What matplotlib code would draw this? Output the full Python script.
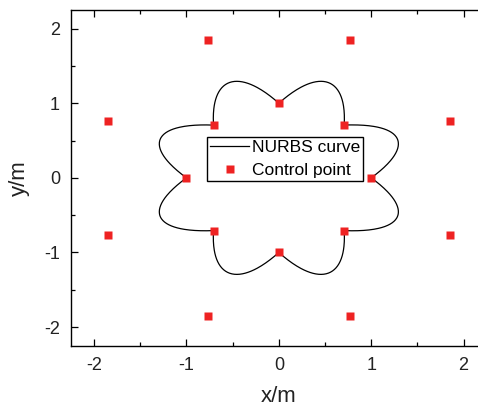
import numpy as np
import matplotlib
matplotlib.use('Agg')
import matplotlib.pyplot as plt

plt.rcParams['font.family'] = ['Liberation Sans', 'DejaVu Sans']
plt.rcParams['axes.unicode_minus'] = False

# 控制点 (外圈半径2, 内圈半径1), 首尾重合
cx = [1.0, 1.848, 0.707, 0.765, 0.0, -0.765, -0.707, -1.848, -1.0,
      -1.848, -0.707, -0.765, 0.0, 0.765, 0.707, 1.848, 1.0]
cy = [0.0, 0.765, 0.707, 1.848, 1.0, 1.848, 0.707, 0.765, 0.0,
      -0.765, -0.707, -1.848, -1.0, -1.848, -0.707, -0.765, 0.0]
weights = [1, 0.75, 1, 0.75, 1, 0.75, 1, 0.75, 1,
           0.75, 1, 0.75, 1, 0.75, 1, 0.75, 1]
degree = 2
knots = [0, 0, 0, 1, 1, 2, 2, 3, 3, 4, 4, 5, 5, 6, 6, 7, 7, 8, 8, 8]


# B样条基函数 (Cox-de Boor递推)
def basis(i, p, u, U):
    if p == 0:
        if U[i] <= u < U[i + 1] or (u == U[-1] and U[i] < u <= U[i + 1]):
            return 1.0
        return 0.0
    a = 0.0
    if U[i + p] != U[i]:
        a = (u - U[i]) / (U[i + p] - U[i]) * basis(i, p - 1, u, U)
    b = 0.0
    if U[i + p + 1] != U[i + 1]:
        b = (U[i + p + 1] - u) / (U[i + p + 1] - U[i + 1]) * basis(i + 1, p - 1, u, U)
    return a + b


def nurbs(P, w, p, U, num=800):
    P = np.array(P)
    w = np.array(w, dtype=float)
    us = np.linspace(U[0], U[-1], num)
    out = []
    for u in us:
        N = np.array([basis(i, p, u, U) for i in range(len(w))])
        Nw = N * w
        out.append(Nw @ P / Nw.sum())
    return np.array(out)


curve = nurbs(np.column_stack([cx, cy]), weights, degree, knots)

fig = plt.figure(figsize=(4.78, 4.09), dpi=100)
ax = fig.add_axes([71 / 478, 1 - 345.7 / 409, 415.7 / 478, 335.7 / 409])
ax.plot(curve[:, 0], curve[:, 1], 'k-', lw=0.9, label='NURBS curve')
ax.plot(cx[:-1], cy[:-1], 's', color='#ee2222', ms=5.5, mec='none', ls='none', label='Control point')

ax.set_xlim(-2.25, 2.25)
ax.set_ylim(-2.25, 2.25)
ax.set_xticks([-2, -1, 0, 1, 2])
ax.set_yticks([-2, -1, 0, 1, 2])
ax.set_xticks(np.arange(-2, 2.01, 0.5), minor=True)
ax.set_yticks(np.arange(-2, 2.01, 0.5), minor=True)
ax.tick_params(which='both', direction='in', top=True, right=False, labelsize=13,
               colors='black', labelcolor='#222222')
ax.tick_params(which='major', length=5, width=0.9, pad=8)
ax.tick_params(which='minor', length=3, width=0.9)
ax.spines['right'].set_visible(False)
for s in ax.spines.values():
    s.set_linewidth(1.0)
ax.set_xlabel('x/m', fontsize=16, color='#222222', labelpad=9)
ax.set_ylabel('y/m', fontsize=16, color='#222222', labelpad=10)

leg = ax.legend(loc='upper left', bbox_to_anchor=(0.327, 0.622), borderaxespad=0,
                fontsize=12.5, fancybox=False, edgecolor='black', framealpha=1,
                handlelength=2.3, handletextpad=0.15, borderpad=0.15, labelspacing=0.5)
leg.get_frame().set_linewidth(1.0)

plt.savefig('out.png', dpi=100)
